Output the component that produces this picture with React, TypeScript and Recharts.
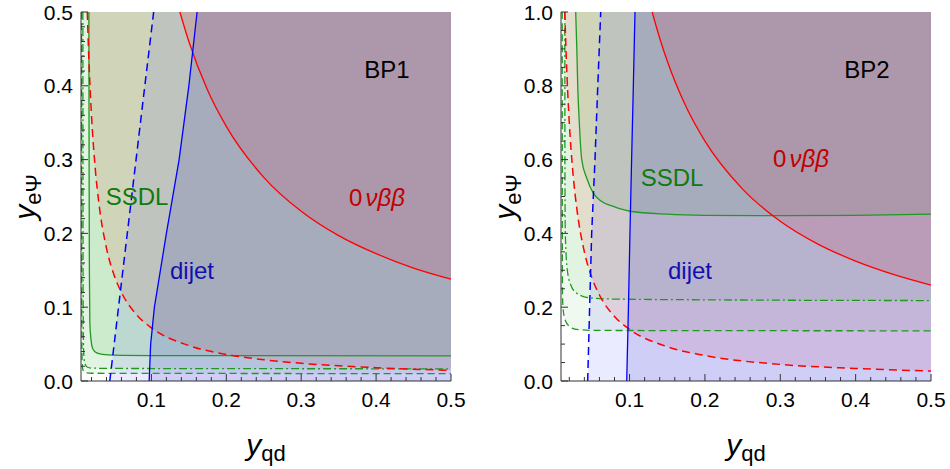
import React from "react";
import { ComposedChart, Area, Line, XAxis, YAxis } from "recharts";

const FONT = '"Liberation Sans", Arial, Helvetica, sans-serif';

// tick values
const xTicks = [0.02, 0.04, 0.06, 0.08, 0.1, 0.12, 0.14, 0.16, 0.18, 0.2, 0.22, 0.24, 0.26, 0.28, 0.3, 0.32, 0.34, 0.36, 0.38, 0.4, 0.42, 0.44, 0.46, 0.48, 0.5];
const xMajor = [0.1, 0.2, 0.3, 0.4, 0.5];
const bp1YTicks = [0, 0.02, 0.04, 0.06, 0.08, 0.1, 0.12, 0.14, 0.16, 0.18, 0.2, 0.22, 0.24, 0.26, 0.28, 0.3, 0.32, 0.34, 0.36, 0.38, 0.4, 0.42, 0.44, 0.46, 0.48, 0.5];
const bp1YMajor = [0, 0.1, 0.2, 0.3, 0.4, 0.5];
const bp2YTicks = [0, 0.05, 0.1, 0.15, 0.2, 0.25, 0.3, 0.35, 0.4, 0.45, 0.5, 0.55, 0.6, 0.65, 0.7, 0.75, 0.8, 0.85, 0.9, 0.95, 1.0];
const bp2YMajor = [0, 0.2, 0.4, 0.6, 0.8, 1.0];

// BP1 curves
const bp1RedSolidX = [0.138, 0.15, 0.175, 0.2, 0.25, 0.3, 0.35, 0.4, 0.45, 0.5];
const bp1RedSolidY = [0.5, 0.46, 0.394, 0.345, 0.276, 0.23, 0.197, 0.1725, 0.153, 0.138];
const bp1RedDashX = [0.0144, 0.016, 0.018, 0.02, 0.025, 0.03, 0.04, 0.05, 0.06, 0.08, 0.1, 0.15, 0.2, 0.25, 0.3, 0.4, 0.5];
const bp1RedDashY = [0.5, 0.45, 0.4, 0.36, 0.288, 0.24, 0.18, 0.144, 0.12, 0.09, 0.072, 0.048, 0.036, 0.0288, 0.024, 0.018, 0.0144];
const bp1BlueSolidX = [0.097, 0.099, 0.104, 0.112, 0.12, 0.137, 0.15, 0.161];
const bp1BlueSolidY = [0, 0.05, 0.1, 0.15, 0.2, 0.3, 0.4, 0.5];
const bp1BlueDashX = [0.0444, 0.0503, 0.0561, 0.0678, 0.0795, 0.0912, 0.103];
const bp1BlueDashY = [0, 0.05, 0.1, 0.2, 0.3, 0.4, 0.5];
const bp1GreenSolidX = [0.0165, 0.0168, 0.0172, 0.0178, 0.0195, 0.022, 0.027, 0.035, 0.05, 0.1, 0.2, 0.5];
const bp1GreenSolidY = [0.5, 0.3, 0.15, 0.08, 0.055, 0.043, 0.038, 0.036, 0.035, 0.0345, 0.0343, 0.034];
const bp1GreenDotDashX = [0.0085, 0.0087, 0.009, 0.0095, 0.011, 0.014, 0.02, 0.05, 0.5];
const bp1GreenDotDashY = [0.5, 0.2, 0.08, 0.04, 0.024, 0.019, 0.0175, 0.017, 0.0165];
const bp1GreenDashX = [0.0068, 0.007, 0.0074, 0.008, 0.0095, 0.013, 0.02, 0.5];
const bp1GreenDashY = [0.5, 0.1, 0.03, 0.018, 0.013, 0.011, 0.0105, 0.01];

// BP2 curves
const bp2RedSolidX = [0.13, 0.14, 0.15, 0.175, 0.2, 0.25, 0.3, 0.35, 0.4, 0.45, 0.5];
const bp2RedSolidY = [1.0, 0.929, 0.867, 0.743, 0.65, 0.52, 0.433, 0.371, 0.325, 0.289, 0.26];
const bp2RedDashX = [0.014, 0.016, 0.018, 0.02, 0.025, 0.03, 0.04, 0.05, 0.06, 0.08, 0.1, 0.15, 0.2, 0.3, 0.4, 0.5];
const bp2RedDashY = [1.0, 0.875, 0.778, 0.7, 0.56, 0.467, 0.35, 0.28, 0.233, 0.175, 0.14, 0.093, 0.069, 0.045, 0.034, 0.027];
const bp2BlueSolidX = [0.0962, 0.0985, 0.1005, 0.1027, 0.105, 0.1072];
const bp2BlueSolidY = [0, 0.2, 0.4, 0.6, 0.8, 1.0];
const bp2BlueDashX = [0.0444, 0.047, 0.0497, 0.0541, 0.0578, 0.0617];
const bp2BlueDashY = [0, 0.2, 0.4, 0.6, 0.8, 1.0];
const bp2GreenSolidX = [0.0285, 0.03, 0.0312, 0.0333, 0.0365, 0.0431, 0.0519, 0.062, 0.0784, 0.1006, 0.15, 0.2, 0.3, 0.4, 0.5];
const bp2GreenSolidY = [1.0, 0.9, 0.8, 0.7, 0.6, 0.55, 0.509, 0.488, 0.473, 0.46, 0.452, 0.449, 0.448, 0.449, 0.452];
const bp2GreenDotDashX = [0.0141, 0.0142, 0.0147, 0.0174, 0.022, 0.0298, 0.0475, 0.08, 0.2, 0.5];
const bp2GreenDotDashY = [1.0, 0.6, 0.4, 0.3, 0.26, 0.238, 0.225, 0.222, 0.22, 0.218];
const bp2GreenDashX = [0.0106, 0.0107, 0.0109, 0.0116, 0.0143, 0.0232, 0.032, 0.06, 0.5];
const bp2GreenDashY = [1.0, 0.5, 0.25, 0.2, 0.166, 0.1435, 0.139, 0.137, 0.136];

const zip = (xs: number[], ys: number[]) => xs.map((x, i) => ({ x, y: ys[i] }));
const isMajor = (v: number, majors: number[]) => majors.some((m) => Math.abs(m - v) < 1e-6);

const GREEN = "#00a000";
const GREEN_LINE = "#1f9a1f";

type Pair = [number[], number[]];
type Curves = {
  redSolid: Pair;
  redDash: Pair;
  blueSolid: Pair;
  blueDash: Pair;
  greenSolid: Pair;
  greenDotDash: Pair;
  greenDash: Pair;
};

function Panel(props: {
  left: number;
  width: number;
  marginRight: number;
  xMin: number;
  yMax: number;
  yTicks: number[];
  yMajor: number[];
  curves: Curves;
}) {
  const { left, width, marginRight, xMin, yMax, yTicks, yMajor, curves } = props;
  const d = (k: keyof Curves) => zip(curves[k][0], curves[k][1]);
  // blue regions lie to the right of the line, closed along the top edge of the frame
  const dRight = (k: keyof Curves) => [...d(k), { x: 0.5, y: yMax }];

  const bottomTick = (p: any) => {
    const v = p.payload.value;
    const major = isMajor(v, xMajor);
    return (
      <g>
        <line x1={p.x} y1={p.y} x2={p.x} y2={p.y - (major ? 7 : 4)} stroke="#333" />
        {major && (
          <text x={p.x} y={p.y + 26} textAnchor="middle" fontSize={21} fontFamily={FONT} fill="#000">
            {v.toFixed(1)}
          </text>
        )}
      </g>
    );
  };
  const topTick = (p: any) => {
    const major = isMajor(p.payload.value, xMajor);
    return <line x1={p.x} y1={p.y} x2={p.x} y2={p.y + (major ? 7 : 4)} stroke="#333" />;
  };
  const leftTick = (p: any) => {
    const v = p.payload.value;
    const major = isMajor(v, yMajor);
    return (
      <g>
        <line x1={p.x} y1={p.y} x2={p.x + (major ? 7 : 4)} y2={p.y} stroke="#333" />
        {major && (
          <text x={p.x - 8} y={p.y + 7.5} textAnchor="end" fontSize={21} fontFamily={FONT} fill="#000">
            {v.toFixed(1)}
          </text>
        )}
      </g>
    );
  };
  const rightTick = (p: any) => {
    const major = isMajor(p.payload.value, yMajor);
    return <line x1={p.x} y1={p.y} x2={p.x - (major ? 7 : 4)} y2={p.y} stroke="#333" />;
  };

  const axisLine = { stroke: "#333", strokeWidth: 1 };
  const smooth = { xAxisId: "b", yAxisId: "l", type: "monotone" as const, isAnimationActive: false };
  const straight = { xAxisId: "b", yAxisId: "l", type: "linear" as const, isAnimationActive: false };

  return (
    <div style={{ position: "absolute", left, top: 0 }}>
      <ComposedChart width={width} height={469} margin={{ top: 12, right: marginRight, left: 0, bottom: 0 }}>
        <XAxis xAxisId="b" type="number" dataKey="x" domain={[xMin, 0.5]} allowDataOverflow ticks={xTicks} interval={0}
          orientation="bottom" height={88} tickSize={0} tickMargin={0} tickLine={false} axisLine={axisLine} tick={bottomTick} />
        <XAxis xAxisId="t" type="number" dataKey="x" domain={[xMin, 0.5]} allowDataOverflow ticks={xTicks} interval={0}
          orientation="top" height={0} tickSize={0} tickMargin={0} tickLine={false} axisLine={axisLine} tick={topTick} />
        <YAxis yAxisId="l" type="number" domain={[0, yMax]} allowDataOverflow ticks={yTicks} interval={0}
          orientation="left" width={81} tickSize={0} tickMargin={0} tickLine={false} axisLine={axisLine} tick={leftTick} />
        <YAxis yAxisId="r" type="number" domain={[0, yMax]} allowDataOverflow ticks={yTicks} interval={0}
          orientation="right" width={0} tickSize={0} tickMargin={0} tickLine={false} axisLine={axisLine} tick={rightTick} />

        <Area {...smooth} data={d("greenDash")} dataKey="y" baseValue={yMax} fill={GREEN} fillOpacity={0.06} stroke="none" />
        <Area {...smooth} data={d("greenDotDash")} dataKey="y" baseValue={yMax} fill={GREEN} fillOpacity={0.06} stroke="none" />
        <Area {...smooth} data={d("greenSolid")} dataKey="y" baseValue={yMax} fill={GREEN} fillOpacity={0.09} stroke="none" />
        <Area {...smooth} data={d("redDash")} dataKey="y" baseValue={yMax} fill="#ff0000" fillOpacity={0.09} stroke="none" />
        <Area {...smooth} data={d("redSolid")} dataKey="y" baseValue={yMax} fill="#ff0000" fillOpacity={0.12} stroke="none" />
        <Area {...straight} data={dRight("blueDash")} dataKey="y" baseValue={0} fill="#0000ff" fillOpacity={0.08} stroke="none" />
        <Area {...straight} data={dRight("blueSolid")} dataKey="y" baseValue={0} fill="#0000c0" fillOpacity={0.12} stroke="none" />

        <Line {...smooth} data={d("greenDash")} dataKey="y" stroke={GREEN_LINE} strokeWidth={1.3} strokeDasharray="7 4" dot={false} />
        <Line {...smooth} data={d("greenDotDash")} dataKey="y" stroke={GREEN_LINE} strokeWidth={1.3} strokeDasharray="8 3 2 3" dot={false} />
        <Line {...smooth} data={d("greenSolid")} dataKey="y" stroke={GREEN_LINE} strokeWidth={1.3} dot={false} />
        <Line {...smooth} data={d("redDash")} dataKey="y" stroke="#ff0000" strokeWidth={1.5} strokeDasharray="8 5" dot={false} />
        <Line {...smooth} data={d("redSolid")} dataKey="y" stroke="#ff0000" strokeWidth={1.3} dot={false} />
        <Line {...straight} data={d("blueDash")} dataKey="y" stroke="#0000ff" strokeWidth={1.5} strokeDasharray="8 5" dot={false} />
        <Line {...straight} data={d("blueSolid")} dataKey="y" stroke="#0000ff" strokeWidth={1.3} dot={false} />
      </ComposedChart>
    </div>
  );
}

const Label = ({ x, y, color, size = 24, children }: any) => (
  <div style={{ position: "absolute", left: x, top: y, transform: "translate(-50%, -50%)", color, fontSize: size,
    fontFamily: FONT, lineHeight: 1, whiteSpace: "nowrap" }}>
    {children}
  </div>
);

const Nubbb = () => (
  <span>0<span style={{ fontStyle: "italic", marginLeft: 3 }}>νββ</span></span>
);

const XLabel = () => (
  <span><span style={{ fontStyle: "italic", fontSize: 30 }}>y</span><span style={{ fontSize: 22, position: "relative", top: 6 }}>qd</span></span>
);
const YLabel = () => (
  <span><span style={{ fontStyle: "italic", fontSize: 30 }}>y</span><span style={{ fontSize: 22, position: "relative", top: 6 }}>eΨ</span></span>
);

export default function App() {
  const bp1: Curves = {
    redSolid: [bp1RedSolidX, bp1RedSolidY],
    redDash: [bp1RedDashX, bp1RedDashY],
    blueSolid: [bp1BlueSolidX, bp1BlueSolidY],
    blueDash: [bp1BlueDashX, bp1BlueDashY],
    greenSolid: [bp1GreenSolidX, bp1GreenSolidY],
    greenDotDash: [bp1GreenDotDashX, bp1GreenDotDashY],
    greenDash: [bp1GreenDashX, bp1GreenDashY],
  };
  const bp2: Curves = {
    redSolid: [bp2RedSolidX, bp2RedSolidY],
    redDash: [bp2RedDashX, bp2RedDashY],
    blueSolid: [bp2BlueSolidX, bp2BlueSolidY],
    blueDash: [bp2BlueDashX, bp2BlueDashY],
    greenSolid: [bp2GreenSolidX, bp2GreenSolidY],
    greenDotDash: [bp2GreenDotDashX, bp2GreenDotDashY],
    greenDash: [bp2GreenDashX, bp2GreenDashY],
  };
  return (
    <div style={{ position: "absolute", left: 0, top: 0, width: 950, height: 469, background: "#fff", overflow: "hidden" }}>
      <Panel left={0} width={475} marginRight={24} xMin={0.006} yMax={0.5} yTicks={bp1YTicks} yMajor={bp1YMajor} curves={bp1} />
      <Panel left={480} width={470} marginRight={19} xMin={0.009} yMax={1.0} yTicks={bp2YTicks} yMajor={bp2YMajor} curves={bp2} />

      <Label x={387} y={70} color="#000">BP1</Label>
      <Label x={137} y={197} color="#0f7a0f">SSDL</Label>
      <Label x={192} y={271} color="#1010b0">dijet</Label>
      <Label x={377} y={198} color="#c00000"><Nubbb /></Label>

      <Label x={867} y={70} color="#000">BP2</Label>
      <Label x={672} y={178} color="#0f7a0f">SSDL</Label>
      <Label x={690} y={271} color="#1010b0">dijet</Label>
      <Label x={801} y={159} color="#c00000"><Nubbb /></Label>

      <Label x={266} y={445} color="#000"><XLabel /></Label>
      <Label x={746} y={445} color="#000"><XLabel /></Label>
      <div style={{ position: "absolute", left: 25, top: 197, transform: "translate(-50%, -50%) rotate(-90deg)", fontFamily: FONT, lineHeight: 1, whiteSpace: "nowrap" }}>
        <YLabel />
      </div>
      <div style={{ position: "absolute", left: 505, top: 197, transform: "translate(-50%, -50%) rotate(-90deg)", fontFamily: FONT, lineHeight: 1, whiteSpace: "nowrap" }}>
        <YLabel />
      </div>
    </div>
  );
}
